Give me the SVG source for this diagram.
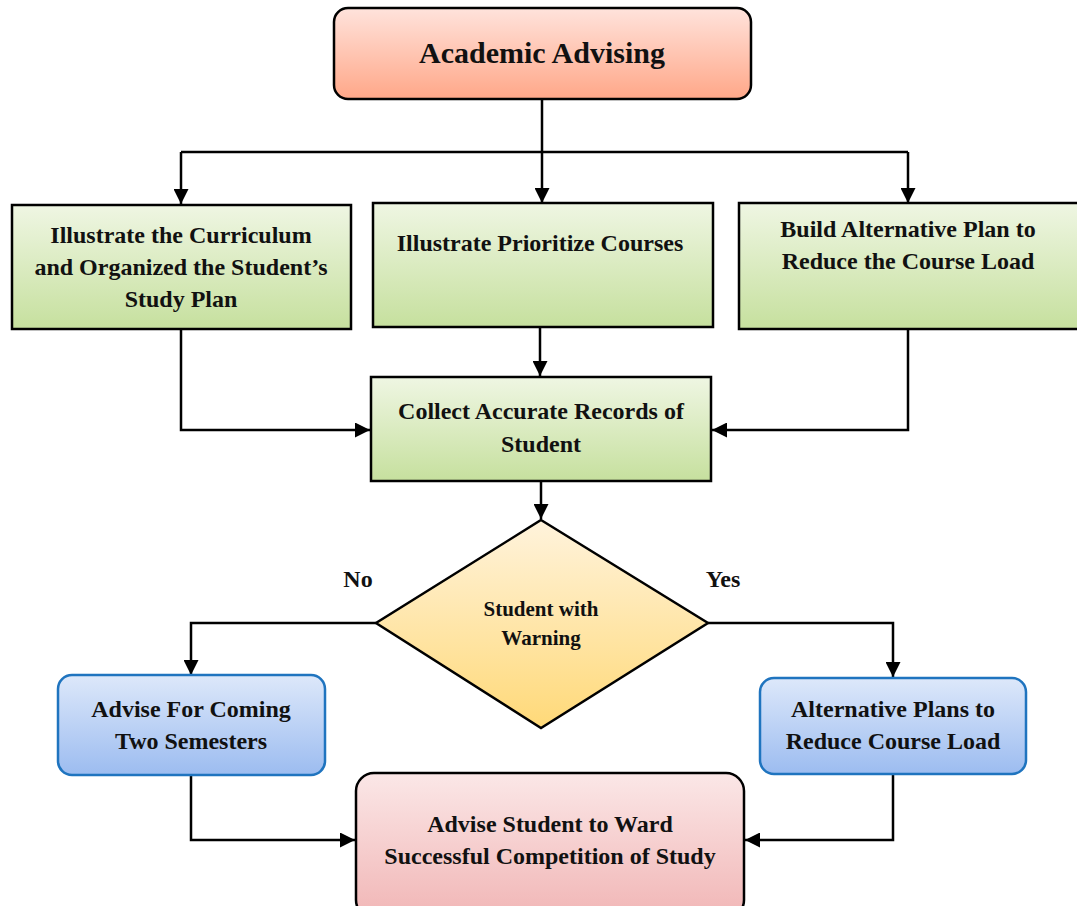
<svg xmlns="http://www.w3.org/2000/svg" width="1077" height="906" viewBox="0 0 1077 906">
  <defs>
    <linearGradient id="gSalmon" x1="0" y1="0" x2="0" y2="1">
      <stop offset="0" stop-color="#FFE3DC"/>
      <stop offset="1" stop-color="#FFA788"/>
    </linearGradient>
    <linearGradient id="gGreen" x1="0" y1="0" x2="0" y2="1">
      <stop offset="0" stop-color="#EFF6E3"/>
      <stop offset="1" stop-color="#C6E09E"/>
    </linearGradient>
    <linearGradient id="gYellow" x1="0" y1="0" x2="0" y2="1">
      <stop offset="0" stop-color="#FFF3DC"/>
      <stop offset="1" stop-color="#FFD978"/>
    </linearGradient>
    <linearGradient id="gBlue" x1="0" y1="0" x2="0" y2="1">
      <stop offset="0" stop-color="#DDE8FA"/>
      <stop offset="1" stop-color="#9CBCF0"/>
    </linearGradient>
    <linearGradient id="gPink" x1="0" y1="0" x2="0" y2="1">
      <stop offset="0" stop-color="#FBE7E7"/>
      <stop offset="1" stop-color="#F1B6B6"/>
    </linearGradient>
    <marker id="arrow" viewBox="0 0 10 10" refX="10" refY="5" markerWidth="15" markerHeight="15" markerUnits="userSpaceOnUse" orient="auto">
      <path d="M0,0 L10,5 L0,10 Z" fill="#000"/>
    </marker>
  </defs>
  <style>
    .box { stroke: #000; stroke-width: 2.5; }
    .blue { stroke: #1F74BF; stroke-width: 2.5; }
    .lbl { font-family: "Liberation Serif", "Times New Roman", serif; font-weight: bold; fill: #111; text-anchor: middle; }
    .t24 { font-size: 24px; }
    .t21 { font-size: 21px; }
    .link { fill: none; stroke: #000; stroke-width: 2.5; }
    .head { marker-end: url(#arrow); }
  </style>

  <rect width="1077" height="906" fill="#fff"/>

  <!-- connectors -->
  <g id="connectors">
    <path class="link" d="M542,99 V152 M181,152 H908"/>
    <path class="link head" d="M181,152 V204"/>
    <path class="link head" d="M542,152 V203"/>
    <path class="link head" d="M908,152 V203"/>
    <path class="link head" d="M181,329 V430 H370"/>
    <path class="link head" d="M540,327 V376"/>
    <path class="link head" d="M908,329 V430 H712"/>
    <path class="link head" d="M541,481 V519"/>
    <path class="link head" d="M376,623 H191 V675"/>
    <path class="link head" d="M708,623 H893 V677"/>
    <path class="link head" d="M191,775 V840 H355"/>
    <path class="link head" d="M893,774 V840 H745"/>
  </g>

  <g id="academic-advising">
    <rect class="box" x="334" y="8" width="417" height="91" rx="14" fill="url(#gSalmon)"/>
    <text class="lbl" x="542" y="63" font-size="30">Academic Advising</text>
  </g>

  <g id="illustrate-curriculum">
    <rect class="box" x="12" y="205" width="339" height="124" fill="url(#gGreen)"/>
    <text class="lbl t24" x="181" y="243">Illustrate the Curriculum</text>
    <text class="lbl t24" x="181" y="275">and Organized the Student’s</text>
    <text class="lbl t24" x="181" y="307">Study Plan</text>
  </g>

  <g id="prioritize-courses">
    <rect class="box" x="373" y="203" width="340" height="124" fill="url(#gGreen)"/>
    <text class="lbl t24" x="540" y="251">Illustrate Prioritize Courses</text>
  </g>

  <g id="alternative-plan">
    <rect class="box" x="739" y="203" width="345" height="126" fill="url(#gGreen)"/>
    <text class="lbl t24" x="908" y="237">Build Alternative Plan to</text>
    <text class="lbl t24" x="908" y="269">Reduce the Course Load</text>
  </g>

  <g id="collect-records">
    <rect class="box" x="371" y="377" width="340" height="104" fill="url(#gGreen)"/>
    <text class="lbl t24" x="541" y="419">Collect Accurate Records of</text>
    <text class="lbl t24" x="541" y="452">Student</text>
  </g>

  <g id="warning-decision">
    <polygon class="box" points="541,520 708,623 541,728 376,623" fill="url(#gYellow)"/>
    <text class="lbl t21" x="541" y="616">Student with</text>
    <text class="lbl t21" x="541" y="645">Warning</text>
  </g>

  <g id="branch-labels">
    <text class="lbl t24" x="358" y="587">No</text>
    <text class="lbl t24" x="723" y="587">Yes</text>
  </g>

  <g id="two-semesters">
    <rect class="blue" x="58" y="675" width="267" height="100" rx="14" fill="url(#gBlue)"/>
    <text class="lbl t24" x="191" y="717">Advise For Coming</text>
    <text class="lbl t24" x="191" y="749">Two Semesters</text>
  </g>

  <g id="reduce-load">
    <rect class="blue" x="760" y="678" width="266" height="96" rx="14" fill="url(#gBlue)"/>
    <text class="lbl t24" x="893" y="717">Alternative Plans to</text>
    <text class="lbl t24" x="893" y="749">Reduce Course Load</text>
  </g>

  <g id="advise-student">
    <rect class="box" x="356" y="773" width="388" height="145" rx="18" fill="url(#gPink)"/>
    <text class="lbl t24" x="550" y="832">Advise Student to Ward</text>
    <text class="lbl t24" x="550" y="864">Successful Competition of Study</text>
  </g>
</svg>
